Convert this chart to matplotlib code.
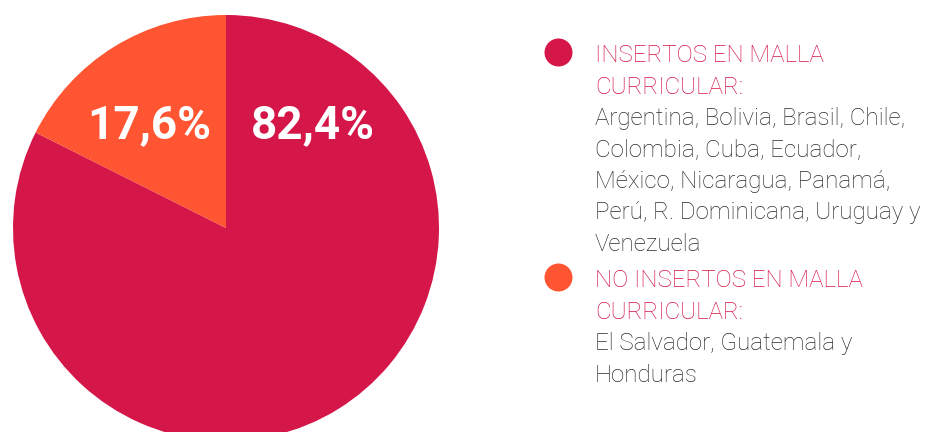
import matplotlib
matplotlib.use("Agg")
import matplotlib.pyplot as plt

plt.rcParams['font.family'] = ['Roboto', 'DejaVu Sans']

# Données
valeurs = [82.4, 17.6]
etiquettes = ["82,4%", "17,6%"]
couleurs = ["#D51648", "#FF5533"]
titres = [["INSERTOS EN MALLA", "CURRICULAR:"],
          ["NO INSERTOS EN MALLA", "CURRICULAR:"]]
pays = [["Argentina, Bolivia, Brasil, Chile,",
         "Colombia, Cuba, Ecuador,",
         "México, Nicaragua, Panamá,",
         "Perú, R. Dominicana, Uruguay y",
         "Venezuela"],
        ["El Salvador, Guatemala y",
         "Honduras"]]

W, H = 934, 432
fig = plt.figure(figsize=(W / 100, H / 100), dpi=100)
ax = fig.add_axes([0, 0, 1, 1])

# Camembert (coordonnées en pixels, y vers le haut)
cx, cy, r = 226, H - 228, 213
ax.pie(valeurs, colors=couleurs, startangle=90, counterclock=False,
       center=(cx, cy), radius=r, wedgeprops=dict(linewidth=0))
ax.set_xlim(0, W)
ax.set_ylim(0, H)
ax.set_aspect('equal')
ax.axis('off')

# Pourcentages
ax.text(313, H - 125, etiquettes[0], color="white", fontsize=33,
        fontweight="bold", ha="center", va="center")
ax.text(149, H - 125, etiquettes[1], color="white", fontsize=33,
        fontweight="bold", ha="center", va="center")

# Légende
pas = 31.5
for i, y0 in enumerate([62, 287]):
    ax.scatter([558], [H - (y0 - 10)], s=(28 * 0.72) ** 2, color=couleurs[i],
               linewidths=0)
    lignes = [(t, "#D51648") for t in titres[i]] + [(p, "#2b2b2b") for p in pays[i]]
    for k, (txt, c) in enumerate(lignes):
        ax.text(595, H - (y0 + k * pas), txt, color=c, fontsize=17.4,
                fontweight="light", ha="left", va="baseline")

fig.savefig("out.png", dpi=100)
